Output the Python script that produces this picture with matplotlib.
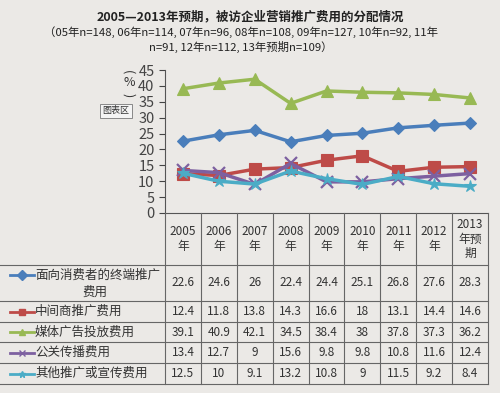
import matplotlib
matplotlib.use("Agg")
import matplotlib.pyplot as plt
from matplotlib.lines import Line2D

plt.rcParams["font.family"] = ["Noto Sans CJK SC", "DejaVu Sans"]

# ===== 数据 =====
years = ["2005\n年", "2006\n年", "2007\n年", "2008\n年", "2009\n年",
         "2010\n年", "2011\n年", "2012\n年", "2013\n年预\n期"]
series_names = ["面向消费者的终端推广", "中间商推广费用", "媒体广告投放费用",
                "公关传播费用", "其他推广或宣传费用"]
consumer = [22.6, 24.6, 26, 22.4, 24.4, 25.1, 26.8, 27.6, 28.3]
dealer = [12.4, 11.8, 13.8, 14.3, 16.6, 18, 13.1, 14.4, 14.6]
media = [39.1, 40.9, 42.1, 34.5, 38.4, 38, 37.8, 37.3, 36.2]
pr = [13.4, 12.7, 9, 15.6, 9.8, 9.8, 10.8, 11.6, 12.4]
other = [12.5, 10, 9.1, 13.2, 10.8, 9, 11.5, 9.2, 8.4]
all_series = [consumer, dealer, media, pr, other]

colors = ["#4a7ebb", "#be4b48", "#98b954", "#7d60a0", "#4bacc6"]
markers = ["D", "s", "^", "x", "*"]
msizes = [6, 8, 8, 9, 9]

W, H = 500, 393
fig = plt.figure(figsize=(5, 3.93), dpi=100)
fig.patch.set_facecolor("#ebe9e6")


def fx(px):
    return px / W


def fy(py):
    return 1 - py / H


# 标题
fig.text(0.5, fy(17), "2005—2013年预期，被访企业营销推广费用的分配情况",
         ha="center", va="center", fontsize=9, fontweight="bold", color="#222222")
fig.text(fx(241), fy(32), "（05年n=148, 06年n=114, 07年n=96, 08年n=108, 09年n=127, 10年n=92, 11年",
         ha="center", va="center", fontsize=8.2, color="#222222")
fig.text(fx(241), fy(47), "n=91, 12年n=112, 13年预期n=109）",
         ha="center", va="center", fontsize=8.2, color="#222222")

# 折线区
x0, x1, ytop, ybot = 165, 488, 70, 213
ax = fig.add_axes([fx(x0), fy(ybot), fx(x1) - fx(x0), fy(ytop) - fy(ybot)])
ax.set_facecolor("none")
xs = list(range(len(years)))
for vals, c, m, ms in zip(all_series, colors, markers, msizes):
    ax.plot(xs, vals, color=c, lw=2.5, marker=m, ms=ms,
            mew=1.6 if m == "x" else 0.8, mec=c, mfc=c)
ax.set_xlim(-0.5, len(years) - 0.5)
ax.set_ylim(0, 45)
ax.set_yticks(range(0, 46, 5))
ax.set_xticks([])
for s in ["top", "right"]:
    ax.spines[s].set_visible(False)
ax.spines["left"].set_color("#555555")
ax.spines["bottom"].set_color("#555555")
ax.tick_params(axis="y", labelsize=10.5, colors="#444444", length=4)

# 纵轴单位（竖排）
fig.text(fx(128), fy(72), "(", ha="center", va="center", fontsize=9,
         rotation=-90, color="#333333")
fig.text(fx(129), fy(83), "%", ha="center", va="center", fontsize=9, color="#333333")
fig.text(fx(128), fy(95), ")", ha="center", va="center", fontsize=9,
         rotation=-90, color="#333333")

# 图表区 提示框
fig.text(fx(116), fy(111), "图表区", ha="center", va="center", fontsize=6.5,
         color="#333333",
         bbox=dict(boxstyle="square,pad=0.25", fc="#f4f4f4", ec="#888888", lw=0.7))

# 数据表
col_w = (x1 - x0) / len(years)
row_lines = [265, 301, 322, 342, 363, 384]
for yl in row_lines:
    fig.add_artist(Line2D([0, fx(x1)], [fy(yl), fy(yl)], color="#666666", lw=0.8))
for i in range(len(years) + 1):
    xl = x0 + i * col_w
    fig.add_artist(Line2D([fx(xl), fx(xl)], [fy(ybot), fy(384)], color="#666666", lw=0.8))

for i, yr in enumerate(years):
    cx = x0 + (i + 0.5) * col_w
    fig.text(fx(cx), fy(239), yr, ha="center", va="center", fontsize=8.5,
             color="#333333", linespacing=1.15)

row_centers = [283, 311.5, 332, 352.5, 373.5]
for r, (name, vals, c, m) in enumerate(zip(series_names, all_series, colors, markers)):
    cy = row_centers[r]
    ky = cy - 8 if r == 0 else cy
    fig.add_artist(Line2D([fx(10), fx(34)], [fy(ky), fy(ky)], color=c, lw=2))
    fig.add_artist(Line2D([fx(22)], [fy(ky)], color=c, marker=m, ms=5, mec=c, mfc=c))
    fig.text(fx(35), fy(ky), name, ha="left", va="center", fontsize=9, color="#333333")
    if r == 0:
        fig.text(fx(95), fy(cy + 9), "费用", ha="center", va="center",
                 fontsize=9, color="#333333")
    for i, v in enumerate(vals):
        cx = x0 + (i + 0.5) * col_w
        fig.text(fx(cx), fy(cy), f"{v:g}", ha="center", va="center",
                 fontsize=8.5, color="#333333")

plt.savefig("out.png", dpi=100, facecolor=fig.get_facecolor())
